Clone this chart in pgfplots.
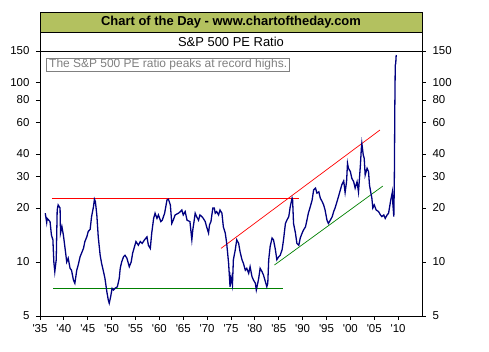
\documentclass[border=0pt]{standalone}
\usepackage{pgfplots}
\pgfplotsset{compat=1.18}
\usepackage{fontspec}
\setmainfont{Liberation Sans}[Ligatures=TeXOff]
\definecolor{navyline}{RGB}{0,0,128}
\definecolor{titlebar}{RGB}{179,193,95}
\definecolor{dgreen}{RGB}{0,128,0}
\begin{document}
\begin{tikzpicture}
\path[use as bounding box] (0bp,0bp) rectangle (489bp,352bp);
\begin{axis}[
    at={(40bp,36bp)}, anchor=south west,
    width=382bp, height=265bp, scale only axis,
    xmin=1935, xmax=2015, ymode=log, ymin=5, ymax=150,
    ytick={5,10,20,30,40,60,80,100,150},
    yticklabels={5,10,20,30,40,60,80,100,150},
    minor ytick={},
    tick align=outside, major tick length=4bp,
    tick style={black, line width=0.8bp},
    axis line style={black, line width=0.8bp},
    ticklabel style={font=\fontsize{11.5}{13}\selectfont},
    xtick={1935,1940,...,2010},
    xticklabels={'35,'40,'45,'50,'55,'60,'65,'70,'75,'80,'85,'90,'95,'00,'05,'10},
    xtick pos=bottom, ytick pos=left,
    yticklabel style={xshift=-3bp},
    xticklabel style={yshift=-1.5bp},
    clip=true]
\addplot[red, line width=1bp] coordinates {(1937.5,22.7) (1989.2,22.7)};
\addplot[dgreen, line width=1bp] coordinates {(1937.8,7.13) (1985.9,7.13)};
\addplot[red, line width=0.7bp] coordinates {(1972.9,11.9) (2006.2,54.4)};
\addplot[dgreen, line width=0.7bp] coordinates {(1984.1,9.62) (2006.8,26.5)};
\addplot[navyline, line width=1.3bp] coordinates {
(1936.1,18.7) (1936.4,16.6) (1936.5,17.5) (1937.1,16.8) (1937.4,14.1) (1937.7,13.3)
(1937.9,10.0) (1938.1,8.83) (1938.4,10.3) (1938.6,19.5) (1938.8,20.8) (1939.2,20.0)
(1939.3,14.5) (1939.6,15.7) (1939.9,14.1) (1940.2,12.2) (1940.6,10.0) (1940.9,10.5)
(1941.3,9.22) (1941.6,9.0) (1942.0,7.94) (1942.3,7.61) (1942.7,9.0) (1943.0,9.62)
(1943.4,10.7) (1943.7,11.2) (1944.1,11.9) (1944.4,13.0) (1944.8,13.8) (1945.1,14.8)
(1945.5,15.2) (1945.8,17.9) (1946.2,20.3) (1946.4,22.4) (1946.6,21.7) (1946.9,18.3)
(1947.2,13.8) (1947.6,10.9) (1947.9,9.83) (1948.3,8.83) (1948.6,8.11) (1949.0,6.83)
(1949.3,6.14) (1949.5,5.89) (1949.8,6.41) (1950.1,7.13) (1950.4,6.98) (1950.7,7.13)
(1951.2,7.28) (1951.6,8.11) (1951.8,9.22) (1952.1,10.0) (1952.5,10.7) (1952.8,10.9)
(1953.2,10.5) (1953.7,9.41) (1954.1,10.0) (1954.4,11.2) (1954.8,12.2) (1955.1,13.0)
(1955.6,12.4) (1956.0,13.0) (1956.4,12.7) (1956.9,13.3) (1957.4,13.8) (1957.7,12.4)
(1958.1,11.9) (1958.4,14.5) (1958.8,17.5) (1959.1,18.7) (1959.5,17.5) (1959.8,18.3)
(1960.3,16.8) (1960.6,17.1) (1961.1,18.7) (1961.6,22.2) (1961.9,22.4) (1962.3,20.8)
(1962.6,16.4) (1962.9,17.1) (1963.3,18.3) (1964.0,18.7) (1964.4,19.1) (1964.7,19.5)
(1965.0,18.3) (1965.4,19.1) (1965.8,17.1) (1966.4,16.8) (1966.8,13.3) (1967.0,15.1)
(1967.3,17.1) (1967.5,18.7) (1967.8,17.9) (1968.2,17.1) (1968.5,18.3) (1968.9,17.9)
(1969.2,17.5) (1969.6,16.8) (1969.9,15.7) (1970.3,14.5) (1970.5,16.1) (1970.8,16.8)
(1971.2,20.0) (1971.5,20.0) (1971.7,18.7) (1972.0,19.1) (1972.4,18.3) (1972.7,19.5)
(1973.1,18.7) (1973.4,15.7) (1973.8,14.5) (1974.1,12.7) (1974.5,9.83) (1974.8,7.28)
(1975.0,8.28) (1975.3,7.44) (1975.5,10.3) (1975.9,11.7) (1976.2,13.3) (1976.6,12.7)
(1976.9,11.4) (1977.3,10.3) (1977.6,9.83) (1978.0,9.0) (1978.3,9.22) (1978.7,8.65)
(1979.0,9.41) (1979.4,8.28) (1979.7,7.94) (1980.1,7.61) (1980.3,6.98) (1980.6,7.61)
(1980.8,8.11) (1981.1,9.22) (1981.5,8.83) (1981.8,8.46) (1982.2,7.77) (1982.5,7.28)
(1982.7,7.6) (1982.9,10.3) (1983.2,12.2) (1983.6,13.6) (1983.9,13.3) (1984.3,11.7)
(1984.6,10.3) (1985.0,10.7) (1985.3,10.9) (1985.7,11.7) (1986.0,13.3) (1986.4,16.4)
(1986.7,17.1) (1987.1,17.9) (1987.4,20.3) (1987.8,22.7) (1987.9,22.2) (1988.1,16.4)
(1988.5,14.5) (1988.8,12.7) (1989.2,12.4) (1989.5,13.6) (1989.9,14.5) (1990.2,15.1)
(1990.6,15.7) (1990.9,17.1) (1991.2,18.7) (1991.6,20.3) (1992.0,22.2) (1992.3,25.2)
(1992.7,25.8) (1993.0,24.2) (1993.4,24.6) (1993.7,22.7) (1994.1,21.7) (1994.4,20.8)
(1994.7,19.5) (1995.1,17.1) (1995.4,16.4) (1995.8,17.1) (1996.2,17.9) (1996.5,19.1)
(1996.8,20.0) (1997.2,21.7) (1997.5,23.1) (1997.9,25.2) (1998.2,26.9) (1998.6,28.3)
(1998.9,24.4) (1999.2,28.0) (1999.4,35.5) (1999.6,33.3) (2000.0,31.9) (2000.3,29.3)
(2000.7,28.0) (2001.0,25.8) (2001.4,28.0) (2001.7,24.6) (2002.1,34.7) (2002.3,43.0)
(2002.4,45.9) (2002.7,39.5) (2002.9,37.8) (2003.1,30.5) (2003.5,33.3) (2003.8,31.9)
(2004.0,26.9) (2004.3,24.2) (2004.5,22.7) (2004.7,20.0) (2005.0,20.8) (2005.4,19.5)
(2005.9,19.1) (2006.3,18.3) (2006.6,17.9) (2007.0,18.3) (2007.3,17.5) (2007.7,18.3)
(2008.0,18.7) (2008.4,21.7) (2008.6,23.1) (2008.8,24.6) (2008.9,21.1) (2009.1,17.9)
(2009.2,26.9) (2009.25,40.4) (2009.3,68.9) (2009.4,125) (2009.5,128) (2009.6,142.5)
};
\node[draw=gray, text=gray, line width=0.8bp, anchor=north west, inner xsep=2.5bp, inner ysep=0.6bp,
      font=\fontsize{12}{14}\selectfont] at (rel axis cs:0.0165,0.9725)
      {The S\&P 500 PE ratio peaks at record highs.};
\end{axis}
\begin{axis}[
    at={(40bp,36bp)}, anchor=south west,
    width=382bp, height=265bp, scale only axis,
    xmin=1935, xmax=2015, ymode=log, ymin=5, ymax=150,
    ytick={5,10,20,30,40,60,80,100,150},
    yticklabels={5,10,20,30,40,60,80,100,150},
    minor ytick={},
    tick align=outside, major tick length=4bp,
    tick style={black, line width=0.8bp},
    axis line style={black, line width=0.8bp},
    ticklabel style={font=\fontsize{11.5}{13}\selectfont},
    axis y line*=right, hide x axis,
    yticklabel style={xshift=3bp},
    ]
\addplot[draw=none] coordinates {(1935,5) (2015,150)};
\end{axis}
\fill[titlebar] (40bp,320bp) rectangle (422bp,340bp);
\draw[black, line width=0.8bp] (40bp,301bp) rectangle (422bp,340bp);
\draw[black, line width=0.8bp] (40bp,320bp) -- (422bp,320bp);
\node[font=\bfseries\fontsize{13}{15}\selectfont, inner sep=0pt] at (231bp,330bp) {Chart of the Day - www.chartoftheday.com};
\node[font=\fontsize{13}{15}\selectfont, inner sep=0pt] at (231bp,310.5bp) {S\&P 500 PE Ratio};
\end{tikzpicture}
\end{document}
